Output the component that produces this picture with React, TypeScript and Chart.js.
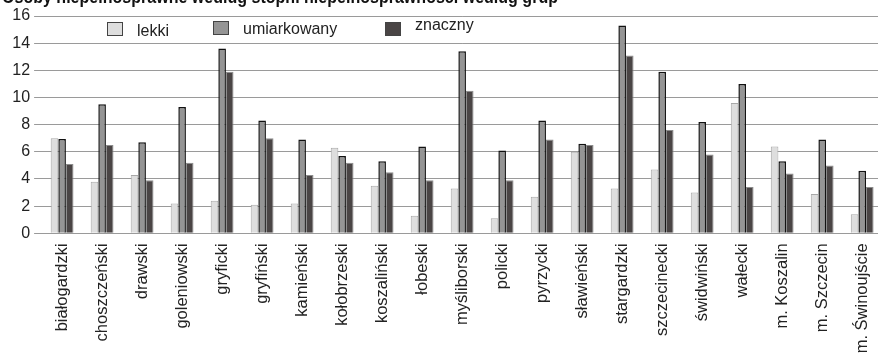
import React, { useEffect, useRef } from "react";
import { Chart, registerables } from "chart.js";

Chart.register(...registerables);

const categories = [
  "białogardzki", "choszczeński", "drawski", "goleniowski", "gryficki", "gryfiński",
  "kamieński", "kołobrzeski", "koszaliński", "łobeski", "myśliborski", "policki",
  "pyrzycki", "sławieński", "stargardzki", "szczecinecki", "świdwiński", "wałecki",
  "m. Koszalin", "m. Szczecin", "m. Świnoujście",
];
const seriesNames = ["lekki", "umiarkowany", "znaczny"];
const lekki = [7.0, 3.8, 4.3, 2.2, 2.4, 2.1, 2.2, 6.3, 3.5, 1.3, 3.3, 1.1, 2.7, 6.0, 3.3, 4.7, 3.0, 9.6, 6.4, 2.9, 1.4];
const umiarkowany = [6.95, 9.5, 6.7, 9.3, 13.6, 8.3, 6.9, 5.7, 5.3, 6.4, 13.4, 6.1, 8.3, 6.6, 15.3, 11.9, 8.2, 11.0, 5.3, 6.9, 4.6];
const znaczny = [5.1, 6.5, 3.9, 5.2, 11.9, 7.0, 4.3, 5.2, 4.5, 3.9, 10.5, 3.9, 6.9, 6.5, 13.1, 7.6, 5.8, 3.4, 4.4, 5.0, 3.4];
const yTicks = [0, 2, 4, 6, 8, 10, 12, 14, 16];
const titleText = "Osoby niepełnosprawne według stopni niepełnosprawności według grup";

const FONT = "'Liberation Sans', Arial, sans-serif";

const legendPlugin = {
  id: "customLegend",
  afterDraw(chart: any) {
    const ctx = chart.ctx;
    const boxX = [107, 213, 385];
    const boxY = [22, 21, 22];
    const textBase = [36, 34, 30];
    ctx.save();
    chart.data.datasets.forEach((ds: any, i: number) => {
      ctx.fillStyle = ds.backgroundColor;
      ctx.fillRect(boxX[i], boxY[i], 15, 13);
      ctx.strokeStyle = "#444";
      ctx.lineWidth = 1;
      ctx.strokeRect(boxX[i] + 0.5, boxY[i] + 0.5, 15, 13);
      ctx.fillStyle = "#222";
      ctx.font = `16px ${FONT}`;
      ctx.textAlign = "left";
      ctx.textBaseline = "alphabetic";
      ctx.fillText(ds.label, boxX[i] + 30, textBase[i]);
    });
    // title (cut by the top edge)
    ctx.font = `bold 18px ${FONT}`;
    const w = ctx.measureText(titleText).width;
    ctx.translate(2, 3);
    ctx.scale(556 / w, 1);
    ctx.fillStyle = "#111";
    ctx.fillText(titleText, 0, 0);
    ctx.restore();
  },
};

export default function App() {
  const ref = useRef<HTMLCanvasElement>(null);
  useEffect(() => {
    if (!ref.current) return;
    const chart = new Chart(ref.current, {
      type: "bar",
      data: {
        labels: categories,
        datasets: [
          { label: seriesNames[0], data: lekki, backgroundColor: "#dedede", borderColor: "#a8a8a8", borderWidth: 1 },
          { label: seriesNames[1], data: umiarkowany, backgroundColor: "#959595", borderColor: "#111111", borderWidth: 1.5 },
          { label: seriesNames[2], data: znaczny, backgroundColor: "#4a4545", borderColor: "#8c8c8c", borderWidth: 1 },
        ],
      },
      options: {
        responsive: false,
        animation: false,
        layout: { padding: { top: 16, left: 0, right: 0, bottom: 0 } },
        plugins: { legend: { display: false }, tooltip: { enabled: false }, title: { display: false } },
        datasets: { bar: { barPercentage: 1, categoryPercentage: 0.57 } },
        scales: {
          x: {
            grid: { display: false, drawTicks: false },
            border: { display: false },
            ticks: {
              autoSkip: false,
              maxRotation: 90,
              minRotation: 90,
              padding: 10,
              color: "#222",
              font: { family: FONT, size: 16.5 },
            },
            afterFit(scale: any) {
              scale.height = 354 - 233.3;
            },
          },
          y: {
            min: 0,
            max: 16,
            afterBuildTicks(scale: any) {
              scale.ticks = yTicks.map((v) => ({ value: v }));
            },
            grid: { color: "#9a9a9a", lineWidth: 1, drawTicks: true, tickLength: 8 },
            border: { display: false },
            ticks: { padding: 4, color: "#222", font: { family: FONT, size: 16 } },
            afterFit(scale: any) {
              scale.width = 42.1;
            },
          },
        },
      },
      plugins: [legendPlugin],
    });
    return () => chart.destroy();
  }, []);
  return (
    <div style={{ position: "absolute", left: 0, top: 0, width: 878, height: 354, overflow: "hidden", background: "#fff" }}>
      <canvas ref={ref} width={892} height={354} style={{ display: "block" }} />
    </div>
  );
}
